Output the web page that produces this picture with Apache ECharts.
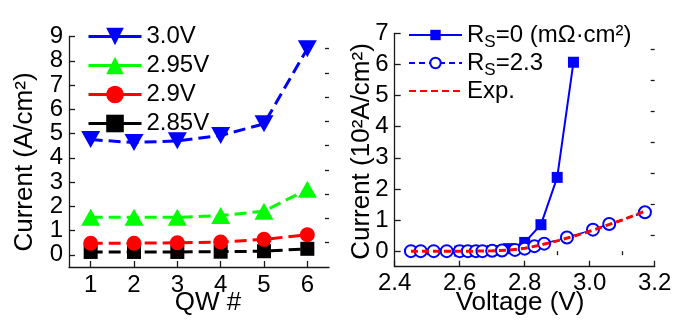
<!DOCTYPE html>
<html><head><meta charset="utf-8">
<script src="https://cdn.jsdelivr.net/npm/echarts@6/dist/echarts.min.js"></script>
<style>html,body{margin:0;padding:0;background:#fff;}#c{width:688px;height:323px;}</style>
</head><body><div id="c"></div>
<script>
// ---- Left panel: current per QW at several voltages ----
var qwCategories = [1, 2, 3, 4, 5, 6];
var v300 = [4.75, 4.63, 4.70, 4.92, 5.40, 8.50];
var v295 = [1.55, 1.55, 1.55, 1.62, 1.80, 2.70];
var v290 = [0.48, 0.48, 0.50, 0.53, 0.64, 0.83];
var v285 = [0.12, 0.12, 0.12, 0.13, 0.15, 0.25];
var leftYTicks = [0, 1, 2, 3, 4, 5, 6, 7, 8, 9];
var leftYMinor = [0.5, 1.5, 2.5, 3.5, 4.5, 5.5, 6.5, 7.5, 8.5];

// ---- Right panel: current vs voltage ----
var rs0V = [2.60, 2.65, 2.70, 2.75, 2.80, 2.85, 2.90, 2.95];
var rs0I = [0.00, 0.00, 0.02, 0.08, 0.28, 0.85, 2.37, 6.07];
var rs23V = [2.45, 2.48, 2.52, 2.56, 2.60, 2.625, 2.65, 2.67, 2.70, 2.73, 2.77, 2.80, 2.83, 2.86, 2.93, 3.01, 3.06, 3.17];
var rs23I = [0.00, 0.00, 0.00, 0.00, 0.00, 0.00, 0.00, 0.00, 0.01, 0.02, 0.04, 0.08, 0.16, 0.24, 0.44, 0.69, 0.87, 1.25];
var expV = [2.45, 2.55, 2.65, 2.70, 2.75, 2.80, 2.85, 2.90, 2.95, 3.00, 3.05, 3.10, 3.17];
var expI = [0.00, 0.00, 0.00, 0.01, 0.03, 0.09, 0.20, 0.33, 0.48, 0.64, 0.82, 1.00, 1.28];
var rightXTicks = [2.4, 2.6, 2.8, 3.0, 3.2];
var rightXMinor = [2.5, 2.7, 2.9, 3.1];
var rightYTicks = [0, 1, 2, 3, 4, 5, 6, 7];
var rightYMinor = [0.5, 1.5, 2.5, 3.5, 4.5, 5.5, 6.5];

function pairs(xs, ys) { return xs.map(function (x, i) { return [x, ys[i]]; }); }

var FONT = 'Liberation Sans, Arial, sans-serif';
var AX = '#1a1a1a';
var TICKFS = 24;
var LEGFS = 24;

function baseAxis(extra) {
  var o = {
    type: 'value',
    axisLine: { show: true, onZero: false, lineStyle: { color: AX, width: 1.3 } },
    splitLine: { show: false },
    axisLabel: { color: '#000', fontSize: TICKFS, fontFamily: FONT },
    axisTick: { inside: true, length: 6, lineStyle: { color: AX, width: 1.3 } }
  };
  for (var k in extra) o[k] = extra[k];
  return o;
}
function minorAxis(extra, vals) {
  var o = {
    type: 'value',
    axisLine: { show: false },
    splitLine: { show: false },
    axisLabel: { show: false },
    axisTick: { show: true, inside: true, length: 4, customValues: vals, lineStyle: { color: AX, width: 1.3 } }
  };
  for (var k in extra) o[k] = extra[k];
  return o;
}

var chart = echarts.init(document.getElementById('c'), null, { renderer: 'canvas' });

var option = {
  animation: false,
  backgroundColor: '#fff',
  grid: [
    { left: 69, top: 36.5, width: 260, height: 230.5 },
    { left: 394.7, top: 33.3, width: 260, height: 233.4 }
  ],
  xAxis: [
    baseAxis({ gridIndex: 0, min: 0.5, max: 6.5, interval: 0.5,
      axisLabel: { color: '#000', fontSize: TICKFS, fontFamily: FONT, margin: 6, customValues: qwCategories },
      axisTick: { inside: true, length: 6, customValues: qwCategories, lineStyle: { color: AX, width: 1.3 } } }),
    baseAxis({ gridIndex: 1, min: 2.4, max: 3.2, interval: 0.1,
      axisLabel: { color: '#000', fontSize: TICKFS, fontFamily: FONT, margin: 5, customValues: rightXTicks,
        formatter: function (v) { return v.toFixed(1); } },
      axisTick: { inside: true, length: 6, customValues: rightXTicks, lineStyle: { color: AX, width: 1.3 } } }),
    minorAxis({ gridIndex: 1, min: 2.4, max: 3.2, interval: 0.1 }, rightXMinor)
  ],
  yAxis: [
    baseAxis({ gridIndex: 0, min: -0.5, max: 9, interval: 0.5,
      axisLabel: { color: '#000', fontSize: TICKFS, fontFamily: FONT, margin: 6, customValues: leftYTicks },
      axisTick: { inside: true, length: 6, customValues: leftYTicks, lineStyle: { color: AX, width: 1.3 } } }),
    minorAxis({ gridIndex: 0, min: -0.5, max: 9, interval: 0.5 }, leftYMinor),
    baseAxis({ gridIndex: 1, min: -0.5, max: 7, interval: 0.5,
      axisLabel: { color: '#000', fontSize: TICKFS, fontFamily: FONT, margin: 6, customValues: rightYTicks },
      axisTick: { inside: true, length: 6, customValues: rightYTicks, lineStyle: { color: AX, width: 1.3 } } }),
    minorAxis({ gridIndex: 1, min: -0.5, max: 7, interval: 0.5 }, rightYMinor)
  ],
  legend: [
    {
      left: 82, top: 17, orient: 'vertical', itemWidth: 53, itemHeight: 22, itemGap: 0,
      data: ['3.0V', '2.95V', '2.9V', '2.85V'],
      lineStyle: { type: 'solid', width: 3 },
      textStyle: { fontSize: LEGFS, fontFamily: FONT, color: '#000', lineHeight: 29 }
    },
    {
      left: 403, top: 18, orient: 'vertical', itemWidth: 53, itemHeight: 13, itemGap: 0,
      data: [
        { name: 'Rs0' },
        { name: 'Rs2.3' },
        { name: 'Exp.', itemStyle: { color: 'rgba(0,0,0,0)', borderWidth: 0, opacity: 0 } }
      ],
      formatter: function (n) {
        if (n === 'Rs0') return '{n|R}{s|S}{n|=0 (mΩ·cm²)}';
        if (n === 'Rs2.3') return '{n|R}{s|S}{n|=2.3}';
        return '{n|Exp.}';
      },
      textStyle: { fontSize: LEGFS, fontFamily: FONT, color: '#000',
        rich: {
          n: { fontSize: LEGFS, fontFamily: FONT, color: '#000', lineHeight: 32 },
          s: { fontSize: 17, fontFamily: FONT, color: '#000', lineHeight: 8, verticalAlign: 'bottom' }
        } }
    }
  ],
  series: [
    { name: '2.85V', type: 'line', xAxisIndex: 0, yAxisIndex: 0, data: pairs(qwCategories, v285),
      symbol: 'rect', symbolSize: 14, itemStyle: { color: '#000' },
      lineStyle: { color: '#000', width: 3, type: [12, 6] } },
    { name: '2.9V', type: 'line', xAxisIndex: 0, yAxisIndex: 0, data: pairs(qwCategories, v290),
      symbol: 'circle', symbolSize: 15, itemStyle: { color: '#ff0000' },
      lineStyle: { color: '#ff0000', width: 3, type: [12, 6] } },
    { name: '2.95V', type: 'line', xAxisIndex: 0, yAxisIndex: 0, data: pairs(qwCategories, v295),
      symbol: 'triangle', symbolSize: [19, 17], itemStyle: { color: '#00ff00' },
      lineStyle: { color: '#00ff00', width: 3, type: [12, 6] } },
    { name: '3.0V', type: 'line', xAxisIndex: 0, yAxisIndex: 0, data: pairs(qwCategories, v300),
      symbol: 'triangle', symbolRotate: 180, symbolSize: [19, 17], itemStyle: { color: '#0000ff' },
      lineStyle: { color: '#0000ff', width: 3, type: [12, 6] } },

    { name: 'Rs0', type: 'line', xAxisIndex: 1, yAxisIndex: 2, data: pairs(rs0V, rs0I),
      symbol: 'rect', symbolSize: 11, itemStyle: { color: '#0000ff' },
      lineStyle: { color: '#0000ff', width: 2 } },
    { name: 'Rs2.3', type: 'line', xAxisIndex: 1, yAxisIndex: 2, data: pairs(rs23V, rs23I),
      symbol: 'emptyCircle', symbolSize: 12, itemStyle: { color: '#0000ff', borderWidth: 1.5 },
      lineStyle: { color: '#0000ff', width: 1.5, type: [6, 4] } },
    { name: 'Exp.', type: 'line', xAxisIndex: 1, yAxisIndex: 2, data: pairs(expV, expI),
      symbol: 'none', z: 5,
      lineStyle: { color: '#ff0000', width: 3, type: [7, 4] } }
  ],
  graphic: [
    { type: 'text', x: 25, y: 162, rotation: Math.PI / 2,
      style: { text: 'Current (A/cm²)', font: '26px ' + FONT, fill: '#000', align: 'center', verticalAlign: 'middle' } },
    { type: 'text', x: 208, y: 303,
      style: { text: 'QW #', font: '26px ' + FONT, fill: '#000', align: 'center', verticalAlign: 'middle' } },
    { type: 'text', x: 361.5, y: 151.5, rotation: Math.PI / 2,
      style: { text: 'Current (10²A/cm²)', font: '26px ' + FONT, fill: '#000', align: 'center', verticalAlign: 'middle' } },
    { type: 'text', x: 520, y: 303,
      style: { text: 'Voltage (V)', font: '26px ' + FONT, fill: '#000', align: 'center', verticalAlign: 'middle' } }
  ]
};
chart.setOption(option);
</script></body></html>
